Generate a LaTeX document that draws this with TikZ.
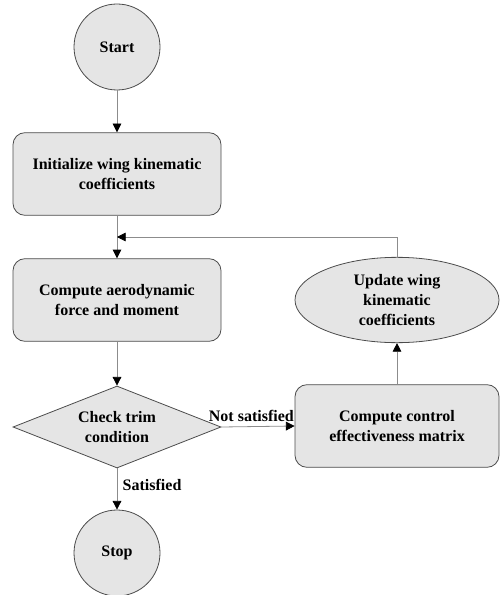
\documentclass[tikz,border=0pt]{standalone}
\usepackage{fontspec}
\setmainfont{Liberation Serif}
\usetikzlibrary{shapes.geometric,arrows.meta}

\tikzset{
  flowtext/.style={font=\bfseries\fontsize{12}{15}\selectfont, align=center, text=black},
  termnode/.style={flowtext, circle, draw=black!70, fill=black!10, line width=0.6pt, minimum size=64.5pt, inner sep=0pt},
  procbox/.style={flowtext, rectangle, draw=black!70, fill=black!10, line width=0.6pt, minimum width=156pt, minimum height=62pt, rounded corners=9pt},
  checknode/.style={flowtext, diamond, draw=black!70, fill=black!10, line width=0.6pt, aspect=2.5, minimum width=156pt, minimum height=61.5pt, inner sep=0pt},
  updnode/.style={flowtext, ellipse, draw=black!70, fill=black!10, line width=0.6pt, minimum width=153pt, minimum height=64pt, inner sep=0pt},
  flowline/.style={draw=black!45, line width=0.6pt, -{Triangle[length=6.5pt, width=6.5pt, color=black]}},
  edgelabel/.style={flowtext, inner sep=2pt}
}

\begin{document}
\begin{tikzpicture}[x=0.75pt, y=-0.75pt]
  \useasboundingbox (0,0) rectangle (500,595);

  % left column
  \node[termnode] (start) at (117, 47) {Start};
  \node[procbox] (init) at (117, 174) {Initialize wing kinematic\\coefficients};
  \node[procbox] (aero) at (117, 300) {Compute aerodynamic\\force and moment};
  \node[checknode] (trim) at (117, 427) {Check trim\\condition};
  \node[termnode] (stop) at (117, 553) {Stop};

  % right column
  \node[procbox, minimum width=153pt] (ctrl) at (397, 426) {Compute control\\effectiveness matrix};
  \node[updnode] (upd) at (397, 300) {Update wing\\kinematic\\coefficients};

  % join point of the loop
  \coordinate (join) at (117, 237);

  % connectors
  \draw[flowline] (start) -- (init);
  \draw[flowline] (init) -- (aero);
  \draw[flowline] (aero) -- (trim);
  \draw[flowline] (trim) -- node[edgelabel, right, pos=0.4, xshift=2pt] {Satisfied} (stop);
  \draw[flowline] (trim.east) -- node[edgelabel, above, xshift=-5pt, yshift=1pt] {Not satisfied} (ctrl.west);
  \draw[flowline] (ctrl) -- (upd);
  \draw[flowline] (upd.north) |- (join);
\end{tikzpicture}
\end{document}
